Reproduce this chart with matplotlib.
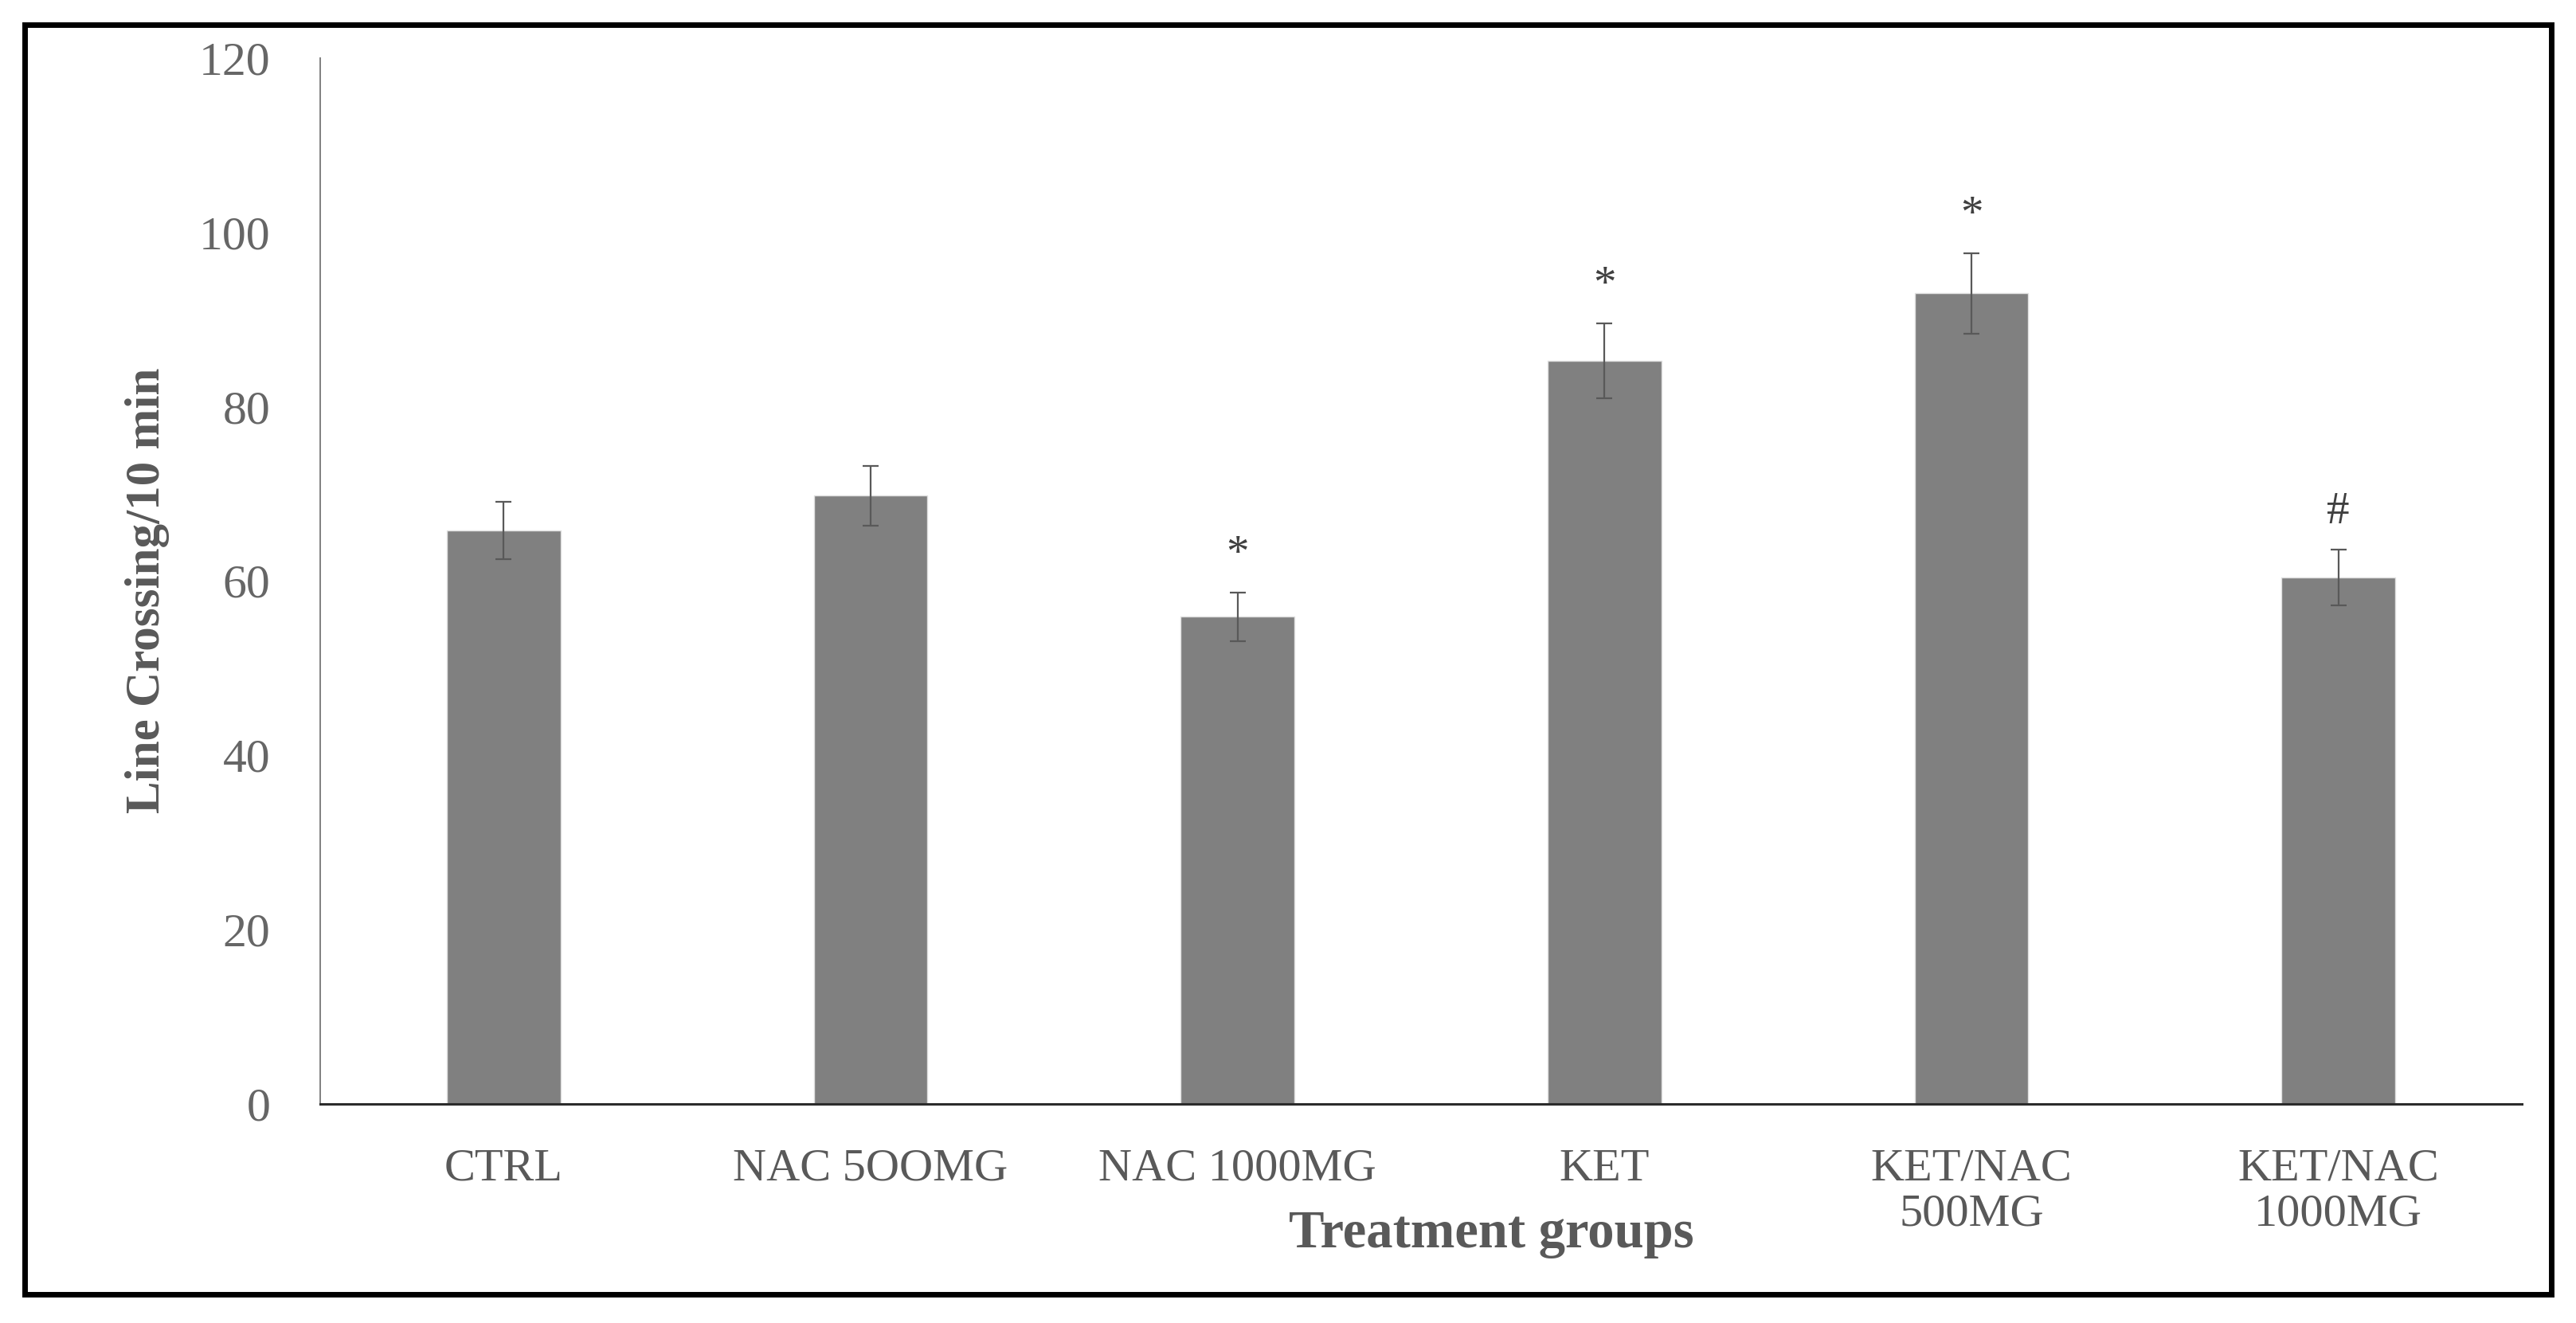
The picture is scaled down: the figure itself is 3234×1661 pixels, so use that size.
import matplotlib.pyplot as plt
import numpy as np
from matplotlib.patches import Rectangle

groups = ['CTRL', 'NAC 5OOMG', 'NAC 1000MG', 'KET', 'KET/NAC\n500MG', 'KET/NAC\n1000MG']
line_crossing = [65.8, 69.8, 55.9, 85.3, 93.0, 60.4]
sem = [3.3, 3.45, 2.8, 4.3, 4.6, 3.2]
marks = ['', '', '*', '*', '*', '#']

W, H = 3234, 1661
plt.rcParams['font.family'] = ['Liberation Serif', 'DejaVu Serif']
txt_col = '#595959'

fig = plt.figure(figsize=(W / 100, H / 100), dpi=100)
ax = fig.add_axes([402 / W, 1 - 1386 / H, (3166 - 402) / W, (1386 - 73) / H])

x = np.arange(len(groups))
ax.bar(x, line_crossing, width=0.31, color='#808080', edgecolor='#e0e0e0', linewidth=1.0, zorder=2)
ax.errorbar(x, line_crossing, yerr=sem, fmt='none', ecolor=txt_col, elinewidth=1.6,
            capsize=7, capthick=1.6, zorder=3)

# significance marks above the error bars
for xi, v, e, m in zip(x, line_crossing, sem, marks):
    if m:
        ax.text(xi, v + e + 3, m, ha='center', va='baseline', fontsize=41, color='#404040')

ax.set_xlim(-0.5, len(groups) - 0.5)
ax.set_ylim(0, 120)
ax.set_yticks(np.arange(0, 121, 20))
ax.set_xticks(x)
ax.set_xticklabels(groups, fontsize=42, color=txt_col, linespacing=1.12)
ax.tick_params(axis='y', length=0, pad=45, labelsize=43, labelcolor='#666666')
ax.tick_params(axis='x', length=0, pad=40)

for s in ['top', 'right']:
    ax.spines[s].set_visible(False)
ax.spines['left'].set_color('#808080')
ax.spines['left'].set_linewidth(1.4)
ax.spines['bottom'].set_color('#2b2b2b')
ax.spines['bottom'].set_linewidth(2.2)

fig.text(185 / W, 1 - 741 / H, 'Line Crossing/10 min', rotation=90, ha='center', va='center',
         fontsize=44, fontweight='bold', color=txt_col)
fig.text(1872 / W, 1 - 1550 / H, 'Treatment groups', ha='center', va='center',
         fontsize=48, fontweight='bold', color=txt_col)

# outer frame
fig.patches.append(Rectangle((31 / W, 1 - 1625 / H), (3203 - 31) / W, (1625 - 31) / H,
                             transform=fig.transFigure, fill=False, edgecolor='black', linewidth=5))

fig.savefig('out.png', dpi=100)
